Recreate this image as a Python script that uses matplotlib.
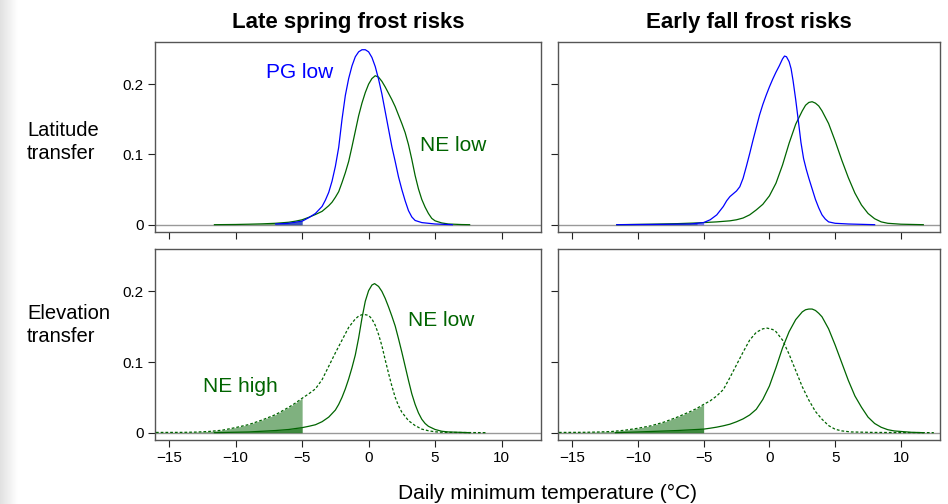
import matplotlib
matplotlib.use("Agg")
import matplotlib.pyplot as plt
import numpy as np

plt.rcParams['font.family'] = ['Liberation Sans', 'DejaVu Sans']

# ---------------- DATA ----------------
# Late spring, latitude transfer
spring_lat_ne_x = [-11.6, -10, -9, -8, -7, -6, -5.5, -5, -4.5, -4, -3.5, -3, -2.75, -2.5, -2.25, -2, -1.75, -1.5,
                   -1.25, -1, -0.75, -0.5, -0.25, 0, 0.25, 0.5, 0.75, 1, 1.25, 1.5, 1.75, 2, 2.25, 2.5, 2.75, 3,
                   3.25, 3.5, 3.75, 4, 4.25, 4.5, 4.75, 5, 5.5, 6, 7, 7.6]
spring_lat_ne_y = [0.0, 0.0003, 0.0007, 0.0012, 0.002, 0.0035, 0.005, 0.007, 0.0105, 0.0145, 0.019, 0.027, 0.032,
                   0.039, 0.047, 0.06, 0.074, 0.09, 0.111, 0.133, 0.155, 0.173, 0.188, 0.2, 0.208, 0.212, 0.21, 0.204,
                   0.196, 0.187, 0.178, 0.168, 0.156, 0.144, 0.131, 0.114, 0.093, 0.07, 0.051, 0.036, 0.025, 0.016,
                   0.009, 0.0055, 0.0025, 0.001, 0.0002, 0.0]
spring_lat_pg_x = [-7, -6, -5, -4.5, -4, -3.5, -3.25, -3, -2.75, -2.5, -2.25, -2, -1.75, -1.5, -1.25, -1, -0.75,
                   -0.5, -0.25, 0, 0.25, 0.5, 0.75, 1, 1.25, 1.5, 1.75, 2, 2.25, 2.5, 2.75, 3, 3.25, 3.5, 4, 5, 6.3]
spring_lat_pg_y = [0.001, 0.002, 0.005, 0.01, 0.016, 0.026, 0.035, 0.046, 0.062, 0.083, 0.11, 0.15, 0.184, 0.208,
                   0.226, 0.239, 0.246, 0.249, 0.249, 0.246, 0.238, 0.225, 0.207, 0.186, 0.161, 0.136, 0.111, 0.09,
                   0.068, 0.05, 0.034, 0.02, 0.011, 0.006, 0.003, 0.001, 0.0]

# Early fall, latitude transfer
fall_lat_pg_x = [-11.6, -8, -6, -5, -4.5, -4, -3.5, -3.25, -3, -2.75, -2.5, -2.25, -2, -1.75, -1.5, -1.25, -1,
                 -0.75, -0.5, -0.25, 0, 0.25, 0.5, 0.75, 1, 1.15, 1.3, 1.5, 1.65, 1.8, 2, 2.2, 2.4, 2.6, 2.8, 3,
                 3.25, 3.5, 3.75, 4, 4.25, 4.5, 5, 6, 8]
fall_lat_pg_y = [0.0, 0.0005, 0.001, 0.003, 0.007, 0.014, 0.026, 0.034, 0.04, 0.044, 0.048, 0.054, 0.066, 0.083,
                 0.101, 0.12, 0.138, 0.156, 0.171, 0.184, 0.196, 0.207, 0.217, 0.226, 0.236, 0.24, 0.239, 0.232,
                 0.222, 0.205, 0.178, 0.148, 0.117, 0.094, 0.079, 0.066, 0.051, 0.036, 0.024, 0.014, 0.008, 0.004,
                 0.002, 0.001, 0.0]
fall_lat_ne_x = [-11.6, -9, -7, -5.5, -4, -3, -2.5, -2, -1.5, -1, -0.5, 0, 0.5, 1, 1.5, 2, 2.5, 2.75, 3, 3.25,
                 3.5, 3.75, 4, 4.5, 5, 5.5, 6, 6.5, 7, 7.5, 8, 8.5, 9, 10, 11.7]
fall_lat_ne_y = [0.0, 0.0007, 0.0015, 0.0025, 0.004, 0.0055, 0.007, 0.0095, 0.014, 0.021, 0.029, 0.041, 0.059,
                 0.085, 0.116, 0.143, 0.162, 0.17, 0.174, 0.175, 0.173, 0.169, 0.162, 0.144, 0.119, 0.092, 0.067,
                 0.045, 0.028, 0.016, 0.0085, 0.004, 0.002, 0.0007, 0.0]

# Late spring, elevation transfer
spring_elev_low_x = [-11.6, -9, -7, -6, -5, -4.5, -4, -3.5, -3, -2.5, -2.25, -2, -1.75, -1.5, -1.25, -1, -0.75,
                     -0.5, -0.25, 0, 0.25, 0.45, 0.75, 1, 1.25, 1.5, 1.75, 2, 2.25, 2.5, 2.75, 3, 3.25, 3.5, 3.75,
                     4, 4.25, 4.5, 5, 5.5, 6, 7.6]
spring_elev_low_y = [0.0, 0.001, 0.003, 0.0045, 0.0071, 0.009, 0.0112, 0.0155, 0.022, 0.032, 0.04, 0.05, 0.062,
                     0.076, 0.092, 0.11, 0.134, 0.162, 0.186, 0.201, 0.209, 0.211, 0.207, 0.2, 0.19, 0.178, 0.165,
                     0.151, 0.133, 0.114, 0.094, 0.074, 0.055, 0.04, 0.028, 0.019, 0.013, 0.009, 0.0045, 0.002,
                     0.001, 0.0]
spring_elev_high_x = [-16, -14, -13, -12, -11, -10, -9, -8, -7, -6, -5.5, -5, -4.5, -4, -3.5, -3, -2.5, -2, -1.5,
                      -1, -0.75, -0.5, -0.25, 0, 0.25, 0.5, 0.75, 1, 1.25, 1.5, 1.75, 2, 2.25, 2.5, 3, 3.5, 4,
                      4.5, 5, 5.6, 7, 8.9]
spring_elev_high_y = [0.0003, 0.0004, 0.0008, 0.0017, 0.0035, 0.0072, 0.0115, 0.018, 0.0255, 0.036, 0.042, 0.0487,
                      0.055, 0.062, 0.075, 0.094, 0.113, 0.131, 0.149, 0.161, 0.165, 0.167, 0.167, 0.166, 0.161,
                      0.152, 0.139, 0.123, 0.103, 0.084, 0.066, 0.05, 0.038, 0.029, 0.017, 0.01, 0.005, 0.0027,
                      0.0012, 0.0005, 0.0002, 0.0]

# Early fall, elevation transfer
fall_elev_low_x = [-11.7, -10, -8.5, -7, -6, -5, -4.5, -4, -3.5, -3, -2.5, -2, -1.5, -1, -0.5, 0, 0.5, 1, 1.5,
                   2, 2.5, 2.75, 3, 3.25, 3.5, 3.75, 4, 4.5, 5, 5.5, 6, 6.5, 7, 7.5, 8, 8.5, 9, 9.5, 10.8, 11.7]
fall_elev_low_y = [0.0, 0.001, 0.002, 0.003, 0.004, 0.005, 0.0063, 0.0078, 0.0097, 0.012, 0.0154, 0.0195, 0.025,
                   0.033, 0.047, 0.066, 0.092, 0.12, 0.143, 0.16, 0.171, 0.174, 0.175, 0.175, 0.173, 0.169, 0.164,
                   0.147, 0.124, 0.099, 0.074, 0.052, 0.036, 0.022, 0.013, 0.0076, 0.0042, 0.0024, 0.0005, 0.0]
fall_elev_high_x = [-16, -14, -13, -12, -11, -10, -9, -8, -7, -6, -5.5, -5, -4.5, -4, -3.5, -3, -2.5, -2, -1.5,
                    -1, -0.5, -0.17, 0.25, 0.5, 1, 1.5, 2, 2.5, 3, 3.5, 4, 4.5, 5, 5.5, 6.2, 8, 12.5]
fall_elev_high_y = [0.0003, 0.0005, 0.0009, 0.0016, 0.0034, 0.0062, 0.0097, 0.015, 0.022, 0.03, 0.0345, 0.04,
                    0.045, 0.052, 0.061, 0.078, 0.096, 0.114, 0.131, 0.142, 0.147, 0.148, 0.146, 0.143, 0.131,
                    0.111, 0.088, 0.065, 0.046, 0.03, 0.019, 0.01, 0.0048, 0.0025, 0.001, 0.0003, 0.0]

col_titles = ["Late spring frost risks", "Early fall frost risks"]
row_labels = ["Latitude\ntransfer", "Elevation\ntransfer"]
x_ticks = [-15, -10, -5, 0, 5, 10]
y_ticks = [0, 0.1, 0.2]
y_tick_labels = ["0", "0.1", "0.2"]
frost_limit = -5

GREEN = "#006400"
BLUE = "#0000ff"
DOTTED = (0, (2.2, 1.6))

# ---------------- LAYOUT ----------------
W, H = 948, 504
fig = plt.figure(figsize=(W / 100, H / 100), dpi=100)

# faint grey strip on the left edge of the screenshot
strip = fig.add_axes([0, 0, 18 / W, 1])
strip.imshow(np.linspace(0.88, 1.0, 50)[None, :], cmap="gray", vmin=0, vmax=1, aspect="auto")
strip.axis("off")


def make_ax(l, t, r, b):
    return fig.add_axes([l / W, 1 - b / H, (r - l) / W, (b - t) / H])


axes = [[make_ax(155, 42, 541, 232), make_ax(558, 42, 940, 232)],
        [make_ax(155, 249, 541, 440), make_ax(558, 249, 940, 440)]]


def curve(ax, x, y, color, ls="-", fill=True):
    x = np.array(x)
    y = np.array(y)
    ax.plot(x, y, color=color, lw=0.9, ls=ls)
    if fill:
        ax.fill_between(x, 0, y, where=x <= frost_limit, color=color, alpha=0.5, lw=0)


curve(axes[0][0], spring_lat_ne_x, spring_lat_ne_y, GREEN)
curve(axes[0][0], spring_lat_pg_x, spring_lat_pg_y, BLUE)
curve(axes[0][1], fall_lat_ne_x, fall_lat_ne_y, GREEN)
curve(axes[0][1], fall_lat_pg_x, fall_lat_pg_y, BLUE)
curve(axes[1][0], spring_elev_low_x, spring_elev_low_y, GREEN)
curve(axes[1][0], spring_elev_high_x, spring_elev_high_y, GREEN, ls=DOTTED)
curve(axes[1][1], fall_elev_low_x, fall_elev_low_y, GREEN)
curve(axes[1][1], fall_elev_high_x, fall_elev_high_y, GREEN, ls=DOTTED)

for i in range(2):
    for j in range(2):
        ax = axes[i][j]
        ax.set_xlim(-16.07, 12.97)
        ax.set_ylim(-0.0104, 0.26)
        ax.axhline(0, color="#999999", lw=1.0, zorder=0)
        ax.set_xticks(x_ticks)
        ax.set_yticks(y_ticks)
        ax.tick_params(direction="out", length=5, width=0.8, color="#222222", labelsize=11, pad=3)
        if i == 0:
            ax.set_xticklabels([])
        else:
            ax.set_xticklabels([str(v).replace("-", "\u2212") for v in x_ticks])
        if j == 1:
            ax.set_yticklabels([])
        else:
            ax.set_yticklabels(y_tick_labels)
        for s in ax.spines.values():
            s.set_color("#555555")
            s.set_linewidth(1.0)

for j, t in enumerate(col_titles):
    axes[0][j].set_title(t, fontsize=16, fontweight="bold", pad=10)

fig.text(27 / W, 1 - 142 / H, row_labels[0], fontsize=14.5, ha="left", va="center", linespacing=1.3)
fig.text(27 / W, 1 - 325 / H, row_labels[1], fontsize=14.5, ha="left", va="center", linespacing=1.3)
fig.text(548 / W, 1 - 493 / H, "Daily minimum temperature (\u00b0C)", fontsize=15, ha="center", va="center")

axes[0][0].text(-5.2, 0.216, "PG low", color=BLUE, fontsize=15, ha="center", va="center")
axes[0][0].text(6.4, 0.113, "NE low", color=GREEN, fontsize=15, ha="center", va="center")
axes[1][0].text(5.45, 0.159, "NE low", color=GREEN, fontsize=15, ha="center", va="center")
axes[1][0].text(-9.65, 0.065, "NE high", color=GREEN, fontsize=15, ha="center", va="center")

fig.savefig("out.png", dpi=100)
